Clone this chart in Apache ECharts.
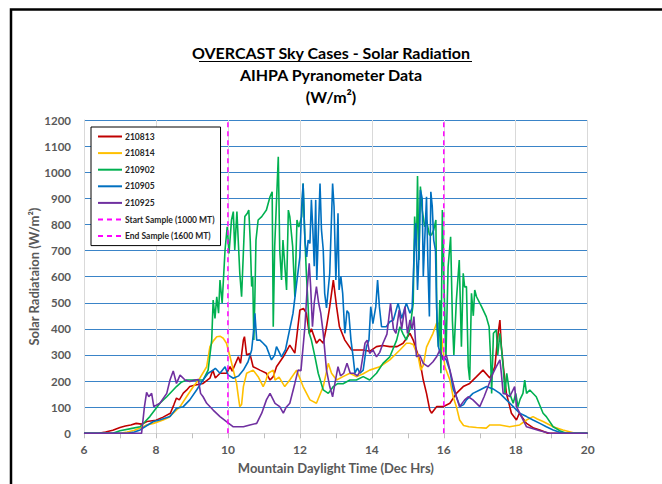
<!DOCTYPE html>
<html>
<head>
<meta charset="utf-8">
<title>OVERCAST Sky Cases - Solar Radiation</title>
<script src="https://cdn.jsdelivr.net/npm/echarts@6/dist/echarts.min.js"></script>
<style>
  html, body { margin: 0; padding: 0; background: #ffffff; }
  #chart { width: 662px; height: 484px; }
</style>
</head>
<body>
<div id="chart"></div>
<script>
// Pyranometer readings: [decimal hour (MDT), W/m²]
const day210813 = [[6.0,0],[6.4,0],[6.6,5],[6.8,12],[7.0,22],[7.15,28],[7.3,32],[7.45,38],[7.6,35],[7.75,45],[8.0,50],[8.2,62],[8.4,77],[8.5,110],[8.57,135],[8.65,128],[8.76,154],[8.85,165],[8.94,179],[9.1,185],[9.31,191],[9.5,211],[9.58,242],[9.65,212],[9.78,230],[9.96,230],[10.06,255],[10.12,238],[10.29,293],[10.35,268],[10.43,357],[10.46,370],[10.52,300],[10.61,306],[10.7,255],[10.89,242],[11.07,230],[11.17,204],[11.26,217],[11.35,255],[11.54,293],[11.72,338],[11.86,307],[12.0,472],[12.1,478],[12.18,460],[12.26,383],[12.32,400],[12.46,345],[12.55,360],[12.65,345],[12.74,408],[12.83,485],[12.93,587],[13.02,485],[13.1,408],[13.25,357],[13.44,319],[13.76,319],[13.94,314],[14.13,332],[14.3,336],[14.5,332],[14.7,332],[14.87,345],[15.06,383],[15.15,357],[15.33,281],[15.43,204],[15.52,153],[15.61,90],[15.66,77],[15.8,102],[15.98,102],[16.17,115],[16.35,153],[16.54,179],[16.72,191],[16.91,217],[17.09,242],[17.28,212],[17.42,255],[17.51,383],[17.56,434],[17.6,332],[17.66,250],[17.74,153],[17.88,77],[18.02,51],[18.1,77],[18.3,38],[18.5,20],[18.67,13],[18.9,0],[20,0]];

const day210814 = [[6.0,0],[7.0,0],[7.2,5],[7.4,12],[7.6,22],[7.74,32],[7.93,38],[8.2,51],[8.35,60],[8.48,77],[8.67,102],[8.85,140],[9.04,179],[9.22,211],[9.41,255],[9.5,332],[9.6,355],[9.69,370],[9.78,372],[9.87,364],[9.96,345],[10.06,293],[10.15,242],[10.24,191],[10.3,130],[10.33,102],[10.38,110],[10.43,179],[10.52,230],[10.7,242],[10.84,217],[10.98,179],[11.05,200],[11.12,230],[11.26,242],[11.31,204],[11.42,215],[11.58,179],[11.72,204],[11.91,242],[12.09,179],[12.28,128],[12.46,115],[12.65,179],[12.79,268],[12.88,230],[13.02,204],[13.2,217],[13.39,230],[13.57,217],[13.76,228],[13.94,242],[14.22,255],[14.5,281],[14.78,319],[14.96,345],[15.06,345],[15.15,340],[15.29,293],[15.36,242],[15.43,260],[15.52,330],[15.61,357],[15.7,383],[15.8,421],[15.87,421],[15.93,380],[16.03,255],[16.17,204],[16.26,140],[16.35,102],[16.44,51],[16.55,30],[16.7,25],[16.91,22],[17.18,20],[17.28,32],[17.56,32],[17.83,25],[18.11,32],[18.3,51],[18.48,64],[18.6,55],[18.76,45],[19.04,25],[19.31,13],[19.6,2],[19.75,0],[20,0]];

const day210902 = [[6.0,0],[6.8,0],[7.0,10],[7.3,18],[7.56,25],[7.7,45],[7.83,64],[8.11,115],[8.3,140],[8.57,179],[8.7,195],[8.85,204],[9.1,204],[9.31,204],[9.45,242],[9.55,357],[9.59,510],[9.64,440],[9.69,523],[9.74,460],[9.78,587],[9.84,498],[9.92,702],[9.98,791],[10.03,689],[10.1,817],[10.15,849],[10.19,702],[10.25,849],[10.33,613],[10.38,523],[10.47,830],[10.54,843],[10.58,855],[10.62,740],[10.66,562],[10.69,600],[10.72,357],[10.75,523],[10.78,740],[10.84,817],[10.94,830],[11.07,855],[11.17,906],[11.23,925],[11.26,408],[11.3,715],[11.4,1059],[11.44,702],[11.49,587],[11.53,740],[11.63,549],[11.68,855],[11.72,830],[11.8,715],[11.86,523],[11.92,817],[11.97,790],[12.05,830],[12.09,957],[12.13,780],[12.18,613],[12.23,485],[12.26,383],[12.32,357],[12.42,293],[12.51,230],[12.65,166],[12.79,153],[12.93,179],[13.06,191],[13.2,190],[13.39,204],[13.57,204],[13.76,217],[13.94,204],[14.13,230],[14.31,268],[14.5,293],[14.69,357],[14.78,408],[14.87,380],[14.96,357],[15.06,400],[15.15,498],[15.19,830],[15.24,700],[15.27,985],[15.31,664],[15.35,945],[15.4,855],[15.47,791],[15.52,817],[15.6,760],[15.66,760],[15.72,779],[15.78,817],[15.81,408],[15.85,332],[15.89,510],[15.92,230],[15.96,855],[16.0,600],[16.06,293],[16.12,638],[16.19,753],[16.24,430],[16.28,300],[16.35,510],[16.43,664],[16.49,332],[16.54,613],[16.58,560],[16.63,562],[16.68,255],[16.72,204],[16.77,536],[16.82,450],[16.86,549],[16.91,523],[17.05,485],[17.18,447],[17.26,408],[17.3,293],[17.33,153],[17.38,383],[17.46,396],[17.5,300],[17.56,383],[17.6,330],[17.65,255],[17.7,153],[17.75,230],[17.83,153],[17.93,115],[18.0,153],[18.06,102],[18.12,130],[18.2,153],[18.25,204],[18.3,153],[18.39,166],[18.57,140],[18.76,77],[18.85,64],[19.04,25],[19.22,10],[19.4,0],[20,0]];

const day210905 = [[6.0,0],[7.2,0],[7.4,5],[7.56,13],[7.75,30],[7.93,45],[8.1,51],[8.39,64],[8.57,96],[8.76,102],[8.94,128],[9.13,166],[9.31,204],[9.45,230],[9.59,242],[9.65,249],[9.78,230],[9.92,255],[10.0,224],[10.15,211],[10.3,220],[10.43,242],[10.56,274],[10.66,319],[10.72,400],[10.75,460],[10.8,357],[10.89,357],[10.98,345],[11.07,332],[11.21,281],[11.3,300],[11.35,332],[11.49,293],[11.6,320],[11.81,460],[11.91,574],[12.0,676],[12.05,868],[12.09,957],[12.14,740],[12.19,676],[12.23,740],[12.28,727],[12.32,894],[12.36,780],[12.4,640],[12.44,894],[12.47,587],[12.56,957],[12.6,780],[12.65,702],[12.69,536],[12.74,480],[12.83,613],[12.91,957],[12.95,868],[13.0,587],[13.03,700],[13.06,843],[13.09,549],[13.14,600],[13.19,536],[13.25,383],[13.31,470],[13.36,460],[13.42,357],[13.48,293],[13.53,230],[13.6,250],[13.67,230],[13.76,242],[13.85,332],[13.92,357],[13.97,485],[14.03,420],[14.11,485],[14.16,587],[14.21,485],[14.27,408],[14.4,408],[14.5,427],[14.6,434],[14.73,498],[14.83,440],[14.96,498],[15.06,460],[15.12,480],[15.19,740],[15.22,804],[15.27,549],[15.31,680],[15.35,932],[15.4,900],[15.43,600],[15.47,740],[15.52,906],[15.56,640],[15.6,447],[15.64,925],[15.68,868],[15.72,740],[15.77,700],[15.8,485],[15.85,332],[15.9,306],[15.98,293],[16.07,281],[16.17,240],[16.26,170],[16.35,140],[16.45,102],[16.55,110],[16.63,128],[16.81,153],[17.0,166],[17.19,179],[17.37,170],[17.56,153],[17.74,128],[17.93,102],[18.11,77],[18.3,64],[18.48,51],[18.67,38],[18.85,25],[19.04,13],[19.3,0],[20,0]];

const day210925 = [[6.0,0],[7.6,0],[7.68,102],[7.74,157],[7.8,140],[7.88,153],[7.94,102],[8.11,115],[8.3,153],[8.39,204],[8.48,239],[8.57,191],[8.67,223],[8.81,204],[8.94,198],[9.08,204],[9.18,206],[9.24,153],[9.31,140],[9.41,115],[9.59,89],[9.78,64],[9.96,45],[10.15,25],[10.43,25],[10.61,32],[10.8,38],[10.94,77],[11.07,128],[11.17,153],[11.31,115],[11.44,102],[11.54,77],[11.62,100],[11.72,115],[11.86,191],[11.95,242],[12.03,240],[12.14,408],[12.2,549],[12.26,651],[12.3,560],[12.35,408],[12.4,500],[12.46,562],[12.52,500],[12.58,460],[12.65,383],[12.74,242],[12.83,179],[12.91,140],[12.99,204],[13.06,255],[13.13,220],[13.22,230],[13.31,268],[13.4,230],[13.5,230],[13.6,220],[13.69,242],[13.81,345],[13.87,357],[13.94,306],[14.03,320],[14.13,293],[14.22,310],[14.31,345],[14.42,380],[14.52,498],[14.6,400],[14.67,383],[14.76,472],[14.83,400],[14.92,485],[14.99,383],[15.06,434],[15.12,400],[15.17,447],[15.24,293],[15.33,300],[15.43,268],[15.56,255],[15.7,274],[15.8,293],[15.89,319],[15.98,281],[16.07,300],[16.17,242],[16.26,191],[16.35,140],[16.44,102],[16.58,128],[16.68,140],[16.81,128],[17.0,102],[17.12,140],[17.23,179],[17.37,230],[17.46,255],[17.56,281],[17.6,230],[17.65,153],[17.74,150],[17.83,140],[17.97,179],[18.02,102],[18.11,77],[18.3,25],[18.67,10],[18.95,0],[20,0]];

// Sampling window markers (hour, W/m² extent)
const startSample = [[10, 0], [10, 1200]];
const endSample = [[16, 0], [16, 1200]];

const dayNames = ['210813', '210814', '210902', '210905', '210925'];
const dayColors = ['#c00000', '#ffc000', '#00b050', '#0070c0', '#7030a0'];
const dayData = [day210813, day210814, day210902, day210905, day210925];

const FONT = 'Lato, "Open Sans", sans-serif';

const series = dayNames.map((name, i) => ({
  name: name,
  type: 'line',
  data: dayData[i],
  symbol: 'none',
  lineStyle: { color: dayColors[i], width: 1.6 },
  itemStyle: { color: dayColors[i] },
  animation: false
}));

[['Start Sample (1000 MT)', startSample], ['End Sample (1600 MT)', endSample]].forEach(([name, data]) => {
  series.push({
    name: name,
    type: 'line',
    data: data,
    symbol: 'none',
    lineStyle: { color: '#ff00ff', width: 1.5, type: [5, 4] },
    itemStyle: { color: '#ff00ff' },
    animation: false
  });
});

const titleStyle = { fontFamily: FONT, fontSize: 16, fontWeight: 'bold', color: '#000000' };

const chart = echarts.init(document.getElementById('chart'), null, { renderer: 'svg' });

chart.setOption({
  backgroundColor: '#ffffff',
  animation: false,
  textStyle: { fontFamily: FONT },
  title: [
    { text: 'OVERCAST Sky Cases - Solar Radiation', left: 'center', top: 44, padding: 0, textStyle: titleStyle },
    { text: 'AIHPA Pyranometer Data', left: 'center', top: 66, padding: 0, textStyle: titleStyle },
    { text: '(W/m²)', left: 'center', top: 88, padding: 0, textStyle: titleStyle }
  ],
  graphic: [
    {
      type: 'rect',
      shape: { x: 11, y: 9.5, width: 700, height: 520 },
      style: { fill: 'none', stroke: '#000000', lineWidth: 2.5 },
      silent: true
    },
    {
      type: 'line',
      shape: { x1: 199, y1: 61.5, x2: 472, y2: 61.5 },
      style: { stroke: '#000000', lineWidth: 1.2 },
      silent: true
    }
  ],
  legend: {
    orient: 'vertical',
    left: 91,
    top: 127,
    padding: [5, 6, 5, 6],
    itemGap: 7.6,
    itemWidth: 24,
    itemHeight: 9,
    backgroundColor: '#ffffff',
    borderColor: '#000000',
    borderWidth: 1,
    borderRadius: 0,
    itemStyle: { opacity: 0 },
    data: dayNames.concat(['Start Sample (1000 MT)', 'End Sample (1600 MT)']),
    textStyle: { fontFamily: FONT, fontSize: 8.5, fontWeight: 'bold', color: '#262626', padding: [0, 0, 0, -2] }
  },
  grid: { left: 84, right: 74.3, top: 120, bottom: 50.7, containLabel: false },
  xAxis: {
    type: 'value',
    min: 6,
    max: 20,
    interval: 2,
    name: 'Mountain Daylight Time (Dec Hrs)',
    nameLocation: 'middle',
    nameGap: 28,
    nameTextStyle: { fontFamily: FONT, fontSize: 13, fontWeight: 'bold', color: '#595959' },
    axisLine: { show: true, onZero: false, lineStyle: { color: '#d9d9d9', width: 1 } },
    axisTick: { show: true, length: 5, lineStyle: { color: '#bfbfbf' } },
    minorTick: { show: true, splitNumber: 2, length: 5, lineStyle: { color: '#bfbfbf' } },
    axisLabel: { fontFamily: FONT, fontSize: 12, fontWeight: 'bold', color: '#595959', margin: 10 },
    splitLine: { show: true, lineStyle: { color: '#d9d9d9', width: 1 } }
  },
  yAxis: {
    type: 'value',
    min: 0,
    max: 1200,
    interval: 100,
    name: 'Solar Radiataion (W/m²)',
    nameLocation: 'middle',
    nameGap: 44,
    nameMoveOverlap: false,
    nameRotate: 90,
    nameTextStyle: { fontFamily: FONT, fontSize: 13, fontWeight: 'bold', color: '#595959' },
    axisLine: { show: true, lineStyle: { color: '#d9d9d9', width: 1 } },
    axisTick: { show: false },
    axisLabel: {
      fontFamily: FONT, fontSize: 11.5, fontWeight: 'bold', color: '#595959', margin: 13,
      formatter: (v) => String(v)
    },
    splitLine: { show: true, lineStyle: { color: '#3a84c8', width: 1 } }
  },
  series: series
});
</script>
</body>
</html>
